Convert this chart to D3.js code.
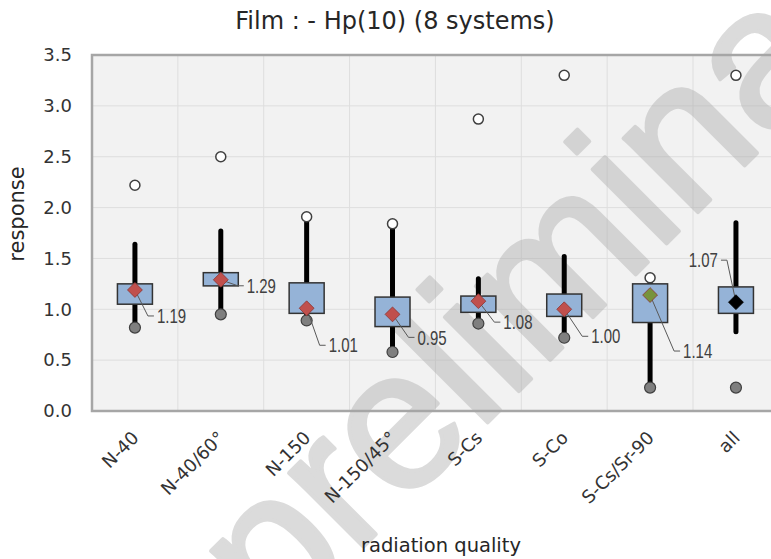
<!DOCTYPE html>
<html>
<head>
<meta charset="utf-8">
<script src="https://cdn.jsdelivr.net/npm/d3@7"></script>
<style>
body { margin: 0; background: #fff; }
svg { display: block; }
</style>
</head>
<body>
<div id="chart"></div>
<script>
// values
const categories = ["N-40", "N-40/60°", "N-150", "N-150/45°", "S-Cs", "S-Co", "S-Cs/Sr-90", "all"];
const maxValues   = [2.22, 2.50, 1.91, 1.84, 2.87, 3.30, 1.31, 3.30];   // open circles
const whiskerHigh = [1.64, 1.77, 1.91, 1.84, 1.30, 1.52, 1.31, 1.85];
const q3Values    = [1.25, 1.36, 1.26, 1.12, 1.13, 1.15, 1.25, 1.22];
const q1Values    = [1.05, 1.23, 0.96, 0.83, 0.97, 0.93, 0.87, 0.96];
const whiskerLow  = [0.82, 0.95, 0.89, 0.58, 0.86, 0.72, 0.23, 0.78];
const minValues   = [0.82, 0.95, 0.89, 0.58, 0.86, 0.72, 0.23, 0.23];   // grey dots
const meanValues  = [1.19, 1.29, 1.01, 0.95, 1.08, 1.00, 1.14, 1.07];   // diamonds
const yTicks = [0, 0.5, 1.0, 1.5, 2.0, 2.5, 3.0, 3.5];

// label placement (pixels, relative to category centre / diamond)
const labelOffsets = [[22, 26], [26, 6], [22, 37], [25, 23], [25, 21], [27, 27], [33, 56], [-18, -42]];
const diamondColor = { "S-Cs/Sr-90": "#77933c", "all": "#000000" };

const W = 771, H = 559;
const plot = { left: 92, top: 55, bottom: 411, band: 85.86 };
plot.right = plot.left + plot.band * categories.length;

const svg = d3.select("#chart").append("svg")
    .attr("width", W)
    .attr("height", H)
    .style("font-family", "'DejaVu Sans', sans-serif");

const x = d3.scaleBand()
    .domain(categories)
    .range([plot.left, plot.right])
    .padding(0);

const y = d3.scaleLinear()
    .domain([0, 3.5])
    .range([plot.bottom, plot.top]);

const cx = c => x(c) + x.bandwidth() / 2;

// plot background
svg.append("rect")
    .attr("x", plot.left)
    .attr("y", plot.top)
    .attr("width", plot.right - plot.left)
    .attr("height", plot.bottom - plot.top)
    .attr("fill", "#f2f2f2");

// horizontal grid
svg.selectAll(".hgrid")
    .data(yTicks)
    .enter()
    .append("line")
    .attr("x1", plot.left)
    .attr("x2", plot.right)
    .attr("y1", d => y(d))
    .attr("y2", d => y(d))
    .attr("stroke", "#dedede")
    .attr("stroke-width", 1);

// vertical grid at category boundaries
svg.selectAll(".vgrid")
    .data(categories.slice(1))
    .enter()
    .append("line")
    .attr("x1", d => x(d))
    .attr("x2", d => x(d))
    .attr("y1", plot.top)
    .attr("y2", plot.bottom)
    .attr("stroke", "#dedede")
    .attr("stroke-width", 1);

// watermark (group opacity so the stroke does not double up)
svg.append("g")
    .attr("opacity", 0.42)
    .append("text")
    .attr("transform", "translate(276,634) rotate(-45)")
    .attr("font-family", "'Liberation Sans', Arial, sans-serif")
    .attr("font-size", 198)
    .attr("fill", "#aaa")
    .attr("stroke", "#aaa")
    .attr("stroke-width", 4)
    .attr("stroke-linejoin", "round")
    .text("preliminary");

// plot frame
svg.append("rect")
    .attr("x", plot.left)
    .attr("y", plot.top)
    .attr("width", plot.right - plot.left)
    .attr("height", plot.bottom - plot.top)
    .attr("fill", "none")
    .attr("stroke", "#a6a6a6")
    .attr("stroke-width", 2.5);

// y axis
const yAxis = svg.append("g")
    .attr("transform", "translate(" + plot.left + ",0)")
    .call(d3.axisLeft(y).tickValues(yTicks).tickFormat(d3.format(".1f")).tickSize(0).tickPadding(20));
yAxis.select(".domain").remove();
yAxis.selectAll("text")
    .attr("font-family", "'DejaVu Sans', sans-serif")
    .attr("font-size", 18)
    .attr("fill", "#333");

// x axis
const xAxis = svg.append("g")
    .attr("transform", "translate(0," + plot.bottom + ")")
    .call(d3.axisBottom(x).tickSize(0));
xAxis.select(".domain").remove();
xAxis.selectAll("text")
    .attr("font-family", "'DejaVu Sans', sans-serif")
    .attr("font-size", 18)
    .attr("fill", "#333")
    .attr("text-anchor", "end")
    .attr("x", 0)
    .attr("y", 0)
    .attr("dy", 0)
    .attr("transform", "translate(5,28) rotate(-45)");

// boxes
const groups = svg.selectAll(".cat")
    .data(categories)
    .enter()
    .append("g")
    .attr("class", "cat");

groups.append("line")
    .attr("x1", d => cx(d))
    .attr("x2", d => cx(d))
    .attr("y1", (d, i) => y(whiskerLow[i]))
    .attr("y2", (d, i) => y(whiskerHigh[i]))
    .attr("stroke", "#000")
    .attr("stroke-width", 5)
    .attr("stroke-linecap", "round");

groups.append("rect")
    .attr("x", d => cx(d) - 17.5)
    .attr("width", 35)
    .attr("y", (d, i) => y(q3Values[i]))
    .attr("height", (d, i) => y(q1Values[i]) - y(q3Values[i]))
    .attr("fill", "#95b3d7")
    .attr("stroke", "#333")
    .attr("stroke-width", 1.5);

groups.append("circle")
    .attr("cx", d => cx(d))
    .attr("cy", (d, i) => y(maxValues[i]))
    .attr("r", 5)
    .attr("fill", "#fff")
    .attr("stroke", "#404040")
    .attr("stroke-width", 1.5);

groups.append("circle")
    .attr("cx", d => cx(d))
    .attr("cy", (d, i) => y(minValues[i]))
    .attr("r", 5.5)
    .attr("fill", "#7f7f7f")
    .attr("stroke", "#404040")
    .attr("stroke-width", 1.2);

// leader lines to mean labels
const line = d3.line();
groups.append("path")
    .attr("fill", "none")
    .attr("stroke", "#595959")
    .attr("stroke-width", 1)
    .attr("d", (d, i) => {
        const [dx, dy] = labelOffsets[i];
        const x0 = cx(d), y0 = y(meanValues[i]);
        const lx = x0 + dx, ly = y0 + dy;
        const s = dx < 0 ? 1 : -1;
        return line([[x0, y0], [lx + 9 * s, ly], [lx + 3 * s, ly]]);
    });

groups.append("path")
    .attr("d", d3.symbol().type(d3.symbolSquare).size(110))
    .attr("transform", (d, i) => "translate(" + cx(d) + "," + y(meanValues[i]) + ") rotate(45)")
    .attr("fill", d => diamondColor[d] || "#c0504d")
    .attr("stroke", d => d === "all" ? "#000" : "#8c3836")
    .attr("stroke-width", 0.8);

groups.append("text")
    .attr("transform", (d, i) => {
        const [dx, dy] = labelOffsets[i];
        return "translate(" + (cx(d) + dx) + "," + (y(meanValues[i]) + dy) + ") scale(0.75,1)";
    })
    .attr("dy", "0.36em")
    .attr("text-anchor", (d, i) => labelOffsets[i][0] < 0 ? "end" : "start")
    .attr("font-family", "'Liberation Sans', Arial, sans-serif")
    .attr("font-size", 20)
    .attr("fill", "#404040")
    .text((d, i) => d3.format(".2f")(meanValues[i]));

// titles
svg.append("text")
    .attr("x", 395)
    .attr("y", 29)
    .attr("text-anchor", "middle")
    .attr("font-size", 24)
    .attr("fill", "#262626")
    .text("Film :  - Hp(10) (8 systems)");

svg.append("text")
    .attr("transform", "translate(23.5,214) rotate(-90)")
    .attr("text-anchor", "middle")
    .attr("font-size", 21)
    .attr("fill", "#262626")
    .text("response");

svg.append("text")
    .attr("x", 441)
    .attr("y", 552)
    .attr("text-anchor", "middle")
    .attr("font-size", 19.5)
    .attr("fill", "#262626")
    .text("radiation quality");
</script>
</body>
</html>
